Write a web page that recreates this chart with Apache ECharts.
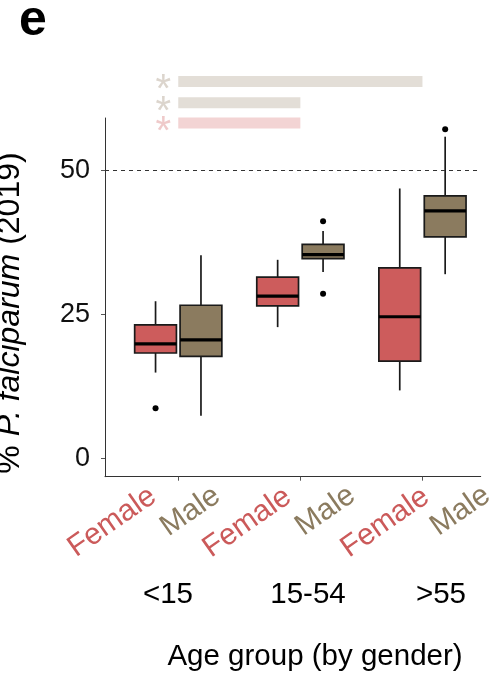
<!DOCTYPE html>
<html>
<head>
<meta charset="utf-8">
<script src="https://cdn.jsdelivr.net/npm/echarts@6/dist/echarts.min.js"></script>
<style>
html,body{margin:0;padding:0;background:#fff;}
#c{width:496px;height:681px;}
</style>
</head>
<body>
<div id="c"></div>
<script>
// ---------- data ----------
const groups = ['<15', '15-54', '>55'];
const genders = ['Female', 'Male'];
const yTicks = [0, 25, 50];
const refLine = 50;

const femaleLow    = [14.9, 22.8, 11.8];
const femaleQ1     = [18.3, 26.5, 16.9];
const femaleMedian = [19.9, 28.2, 24.6];
const femaleQ3     = [23.2, 31.5, 33.1];
const femaleHigh   = [27.3, 34.5, 46.9];
const femaleOutliers = [[0, 8.7]];            // [group index, value]

const maleLow    = [7.4, 32.4, 32.0];
const maleQ1     = [17.7, 34.7, 38.5];
const maleMedian = [20.6, 35.4, 43.0];
const maleQ3     = [26.6, 37.2, 45.6];
const maleHigh   = [35.3, 39.5, 55.9];
const maleOutliers = [[1, 41.2], [1, 28.6], [2, 57.2]];

// significance brackets (group index from/to, y value, gender colour, text)
const sigFrom = [0, 0, 0];
const sigTo = [2, 1, 1];
const sigY = [65.5, 61.8, 58.3];
const sigGender = ['Male', 'Male', 'Female'];
const sigText = ['*', '*', '*'];

// ---------- style / layout ----------
const FONT = "'Liberation Sans', Arial, Helvetica, sans-serif";
const colFill = { Female: '#CD5C5C', Male: '#8B7B5F' };
const colLabel = { Female: '#CB5A5A', Male: '#8B7B5F' };
const colSig = { Female: '#F3D4D4', Male: '#E3DED7' };
const colStar = { Female: '#EFCACA', Male: '#DCD5CD' };
const dodge = 0.186;
const boxW = 0.342;

const genderOffset = { Female: -dodge, Male: dodge };
function xpos(gi, g) { return gi + 1 + genderOffset[g]; }

const boxData = [];
groups.forEach((_, gi) => {
  boxData.push([xpos(gi, 'Female'), femaleLow[gi], femaleQ1[gi], femaleMedian[gi], femaleQ3[gi], femaleHigh[gi], 0]);
  boxData.push([xpos(gi, 'Male'), maleLow[gi], maleQ1[gi], maleMedian[gi], maleQ3[gi], maleHigh[gi], 1]);
});
const outlierData = femaleOutliers.map(o => [xpos(o[0], 'Female'), o[1]])
  .concat(maleOutliers.map(o => [xpos(o[0], 'Male'), o[1]]));
const sigData = sigFrom.map((f, i) => [f + 1, sigTo[i] + 1, sigY[i], genders.indexOf(sigGender[i])]);

function renderBox(params, api) {
  const x = api.value(0);
  const g = genders[api.value(6)];
  const pLow = api.coord([x, api.value(1)]);
  const pQ1 = api.coord([x, api.value(2)]);
  const pMed = api.coord([x, api.value(3)]);
  const pQ3 = api.coord([x, api.value(4)]);
  const pHigh = api.coord([x, api.value(5)]);
  const hw = api.size([boxW, 0])[0] / 2;
  const lineStyle = { stroke: '#1a1a1a', lineWidth: 1.7 };
  return {
    type: 'group',
    children: [
      { type: 'line', shape: { x1: pLow[0], y1: pLow[1], x2: pQ1[0], y2: pQ1[1] }, style: lineStyle },
      { type: 'line', shape: { x1: pQ3[0], y1: pQ3[1], x2: pHigh[0], y2: pHigh[1] }, style: lineStyle },
      { type: 'rect', shape: { x: pQ1[0] - hw, y: pQ3[1], width: hw * 2, height: pQ1[1] - pQ3[1] },
        style: { fill: colFill[g], stroke: '#1a1a1a', lineWidth: 1.7 } },
      { type: 'line', shape: { x1: pMed[0] - hw, y1: pMed[1], x2: pMed[0] + hw, y2: pMed[1] },
        style: { stroke: '#000', lineWidth: 3.2 } }
    ]
  };
}

function renderSig(params, api) {
  const p1 = api.coord([api.value(0), api.value(2)]);
  const p2 = api.coord([api.value(1), api.value(2)]);
  const g = genders[api.value(3)];
  const h = 11;
  return {
    type: 'group',
    children: [
      { type: 'rect', shape: { x: p1[0], y: p1[1] - h / 2, width: p2[0] - p1[0], height: h },
        style: { fill: colSig[g] } },
      { type: 'text', x: p1[0] - 15, y: p1[1] + 10,
        style: { text: sigText[params.dataIndex], fill: colStar[g], font: '40px ' + FONT,
                 align: 'center', verticalAlign: 'middle' } }
    ]
  };
}

// label positions (annotation layer)
const genderLabelPos = [
  [144.5, 481, 'Female'], [208.5, 480.5, 'Male'],
  [279.5, 481.5, 'Female'], [343.5, 480, 'Male'],
  [417.5, 481.5, 'Female'], [478.5, 480, 'Male']
];
const groupLabelX = [168, 308, 441];

const graphics = [];
genderLabelPos.forEach(p => {
  graphics.push({
    type: 'text', x: p[0], y: p[1], rotation: 35 * Math.PI / 180,
    style: { text: p[2], fill: colLabel[p[2]], font: '30px ' + FONT, align: 'right', verticalAlign: 'top' }
  });
});
groups.forEach((gname, i) => {
  graphics.push({
    type: 'text', x: groupLabelX[i], y: 595,
    style: { text: gname, fill: '#000', font: '29.5px ' + FONT, align: 'center', verticalAlign: 'middle' }
  });
});
graphics.push({
  type: 'text', x: 315, y: 657,
  style: { text: 'Age group (by gender)', fill: '#000', font: '29.5px ' + FONT, align: 'center', verticalAlign: 'middle' }
});
graphics.push({
  type: 'text', x: 10, y: 313, rotation: Math.PI / 2,
  style: {
    text: '{n|% }{i|P. falciparum}{n| (2019)}',
    align: 'center', verticalAlign: 'middle',
    rich: {
      n: { fontSize: 32, fontFamily: FONT, fill: '#000' },
      i: { fontSize: 32, fontFamily: FONT, fontStyle: 'italic', fill: '#000' }
    }
  }
});
graphics.push({
  type: 'text', x: 19, y: 21,
  style: { text: 'e', fill: '#000', font: 'bold 50px ' + FONT, align: 'left', verticalAlign: 'middle' }
});

const option = {
  animation: false,
  backgroundColor: '#fff',
  grid: { left: 105, right: 15.3, top: 118, bottom: 204.3 },
  xAxis: {
    type: 'value', min: 0.4, max: 3.477,
    splitLine: { show: false },
    axisLine: { show: true, onZero: false, lineStyle: { color: '#333', width: 1 } },
    axisTick: { show: true, length: 4, lineStyle: { color: '#555' }, customValues: [1, 2, 3] },
    axisLabel: { show: false }
  },
  yAxis: {
    type: 'value', min: -3.2, max: 59.15,
    splitLine: { show: false },
    axisLine: { show: true, onZero: false, lineStyle: { color: '#333', width: 1 } },
    axisTick: { show: true, length: 4, lineStyle: { color: '#555' }, customValues: yTicks },
    axisLabel: { show: true, customValues: yTicks, margin: 15, fontSize: 27, fontFamily: FONT, color: '#111' }
  },
  series: [
    {
      type: 'scatter', data: [], z: 1, silent: true,
      markLine: {
        silent: true, symbol: 'none', label: { show: false },
        lineStyle: { type: [4, 4], color: '#333', width: 1 },
        data: [{ yAxis: refLine }]
      }
    },
    { type: 'custom', renderItem: renderBox, data: boxData, z: 3, silent: true },
    { type: 'scatter', data: outlierData, symbolSize: 6, itemStyle: { color: '#000', opacity: 1 }, z: 4, silent: true },
    { type: 'custom', renderItem: renderSig, data: sigData, clip: false, z: 5, silent: true }
  ],
  graphic: graphics
};

const chart = echarts.init(document.getElementById('c'), null, { renderer: 'canvas' });
chart.setOption(option);
</script>
</body>
</html>
